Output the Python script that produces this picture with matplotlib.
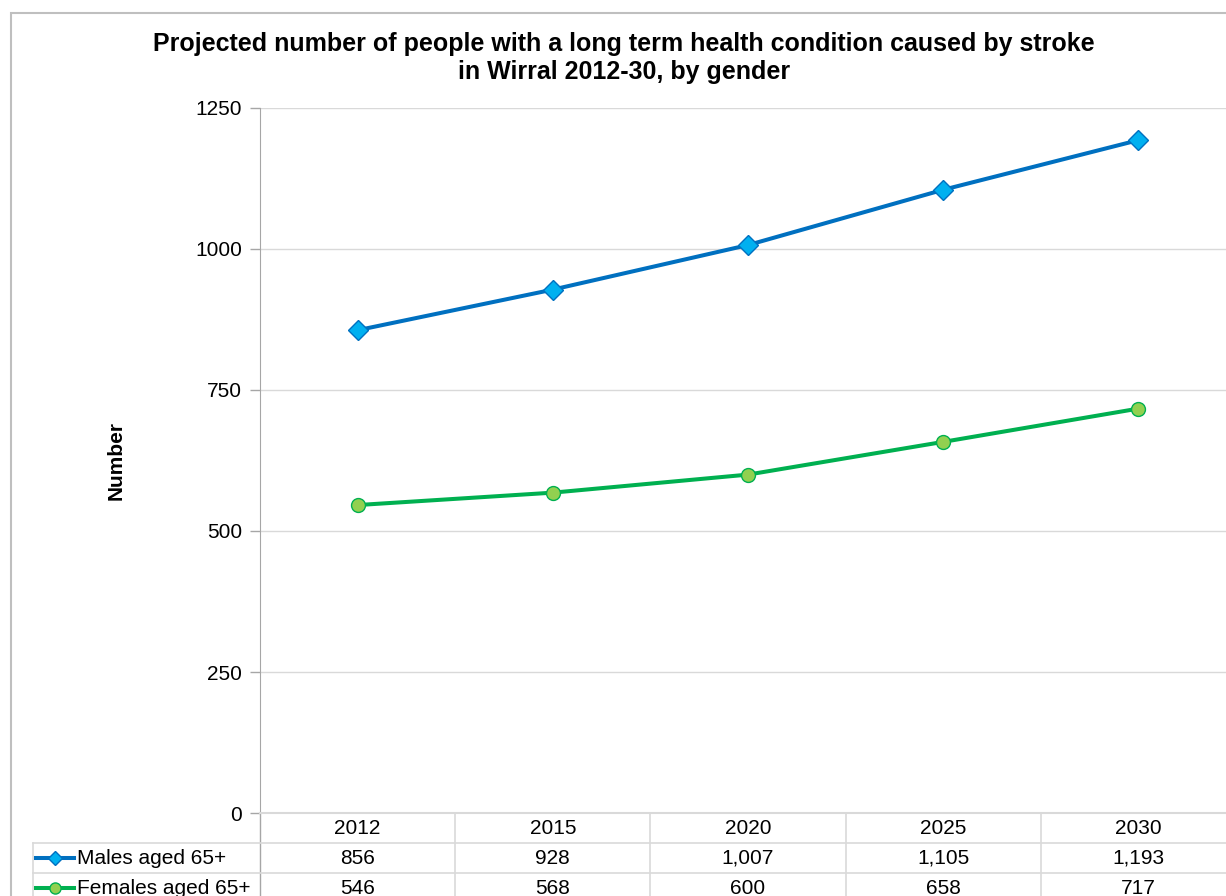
import matplotlib.pyplot as plt
from matplotlib.patches import Rectangle
from matplotlib.transforms import blended_transform_factory

years = ['2012', '2015', '2020', '2025', '2030']
males = [856, 928, 1007, 1105, 1193]
females = [546, 568, 600, 658, 717]
series_names = ['Males aged 65+', 'Females aged 65+']
yticks = [0, 250, 500, 750, 1000, 1250]

plt.rcParams['font.family'] = ['Liberation Sans', 'DejaVu Sans']

W, H = 1226, 896
fig = plt.figure(figsize=(W / 100, H / 100), dpi=100)

def fx(px):
    return px / W

def fy(py):
    return 1 - py / H

# chart area outline (runs off the right and bottom edges)
fig.patches.append(Rectangle((fx(11), -0.2), 1.2, fy(13) + 0.2, transform=fig.transFigure,
                             fill=False, edgecolor='#BFBFBF', linewidth=1.5))

ax = fig.add_axes([fx(260), fy(813), fx(1236) - fx(260), fy(108) - fy(813)])

x = list(range(len(years)))
ax.plot(x, males, color='#0070C0', linewidth=2.9, marker='D', markersize=10,
        markerfacecolor='#00B0F0', markeredgecolor='#0070C0', markeredgewidth=1, zorder=3)
ax.plot(x, females, color='#00B050', linewidth=2.9, marker='o', markersize=10,
        markerfacecolor='#92D050', markeredgecolor='#00B050', markeredgewidth=1, zorder=3)

ax.set_xlim(-0.5, len(years) - 0.5)
ax.set_ylim(0, 1250)
ax.set_yticks(yticks)
ax.set_yticklabels([str(v) for v in yticks])
ax.tick_params(axis='y', length=7, width=1, color='#A6A6A6', labelsize=15, pad=6)
ax.set_xticks([])
ax.grid(axis='y', color='#D9D9D9', linewidth=1)
ax.set_axisbelow(True)
for s in ['top', 'right']:
    ax.spines[s].set_visible(False)
ax.spines['left'].set_color('#A6A6A6')
ax.spines['bottom'].set_color('#D9D9D9')
ax.spines['bottom'].set_linewidth(1.5)

ax.set_ylabel('Number', fontsize=15, fontweight='bold', labelpad=50)

fig.text(fx(624), fy(58), 'Projected number of people with a long term health condition caused by stroke\n'
         'in Wirral 2012-30, by gender', ha='center', va='center', fontsize=18,
         fontweight='bold', linespacing=1.23)

# data table underneath the axis
tr = blended_transform_factory(ax.transData, fig.transFigure)
grid_kw = dict(color='#D9D9D9', linewidth=1.2, clip_on=False)
rows = [813, 843, 873, 903]
n = len(years)
ax.plot([-0.5, -0.5], [fy(813), fy(910)], transform=tr, color='#A6A6A6', linewidth=1, clip_on=False)
for i in range(n):
    ax.plot([i + 0.5, i + 0.5], [fy(813), fy(910)], transform=tr, **grid_kw)
    ax.text(i, fy(828), years[i], transform=tr, ha='center', va='center', fontsize=15)
    ax.text(i, fy(858), f'{males[i]:,}', transform=tr, ha='center', va='center', fontsize=15)
    ax.text(i, fy(888), f'{females[i]:,}', transform=tr, ha='center', va='center', fontsize=15)
for r in rows[1:3]:
    fig.add_artist(plt.Line2D([fx(33), 1.0], [fy(r), fy(r)], transform=fig.transFigure,
                              color='#D9D9D9', linewidth=1.2))
fig.add_artist(plt.Line2D([fx(33), fx(33)], [fy(843), fy(910)], transform=fig.transFigure,
                          color='#D9D9D9', linewidth=1.2))

# legend keys inside the table
key_x = [fx(36), fx(55), fx(74)]
fig.add_artist(plt.Line2D(key_x, [fy(858)] * 3, transform=fig.transFigure,
                          color='#0070C0', linewidth=2.9, marker='D', markersize=7,
                          markevery=[1], markerfacecolor='#00B0F0', markeredgecolor='#0070C0'))
fig.add_artist(plt.Line2D(key_x, [fy(888)] * 3, transform=fig.transFigure,
                          color='#00B050', linewidth=2.9, marker='o', markersize=8,
                          markevery=[1], markerfacecolor='#92D050', markeredgecolor='#00B050'))
fig.text(fx(77), fy(858), series_names[0], ha='left', va='center', fontsize=15)
fig.text(fx(77), fy(888), series_names[1], ha='left', va='center', fontsize=15)

fig.savefig('out.png', dpi=100)
